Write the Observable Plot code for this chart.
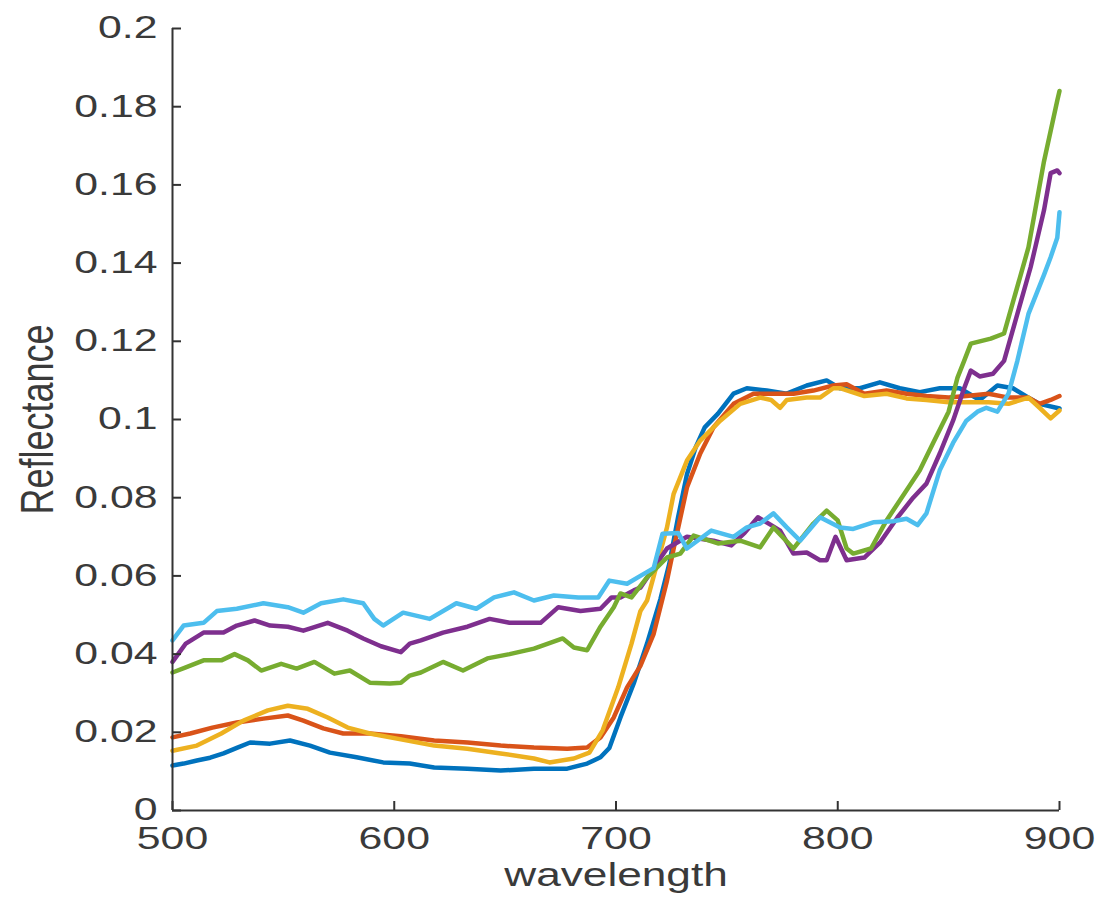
<!DOCTYPE html>
<html>
<head>
<meta charset="utf-8">
<script src="https://cdn.jsdelivr.net/npm/d3@7"></script>
<script src="https://cdn.jsdelivr.net/npm/@observablehq/plot@0.6"></script>
<style>
  html, body { margin: 0; padding: 0; background: #fff; }
</style>
</head>
<body>
<div id="chart"></div>
<script>
// Tick values
const xTicks = [500, 600, 700, 800, 900];
const yTicks = [0, 0.02, 0.04, 0.06, 0.08, 0.1, 0.12, 0.14, 0.16, 0.18, 0.2];

// Series: [wavelength, reflectance]
const blue = [[500,0.0115],[505,0.012],[511,0.0128],[517,0.0135],[523,0.0146],[529,0.016],[535,0.0174],[544,0.0171],[553,0.0179],[562,0.0166],[571,0.0148],[583,0.0136],[595,0.0123],[607,0.012],[618,0.011],[633,0.0107],[648,0.0102],[663,0.0107],[678,0.0107],[687,0.012],[693,0.0136],[697,0.016],[702,0.0238],[708,0.0325],[714,0.0427],[720,0.054],[724,0.063],[728,0.075],[732,0.086],[736,0.093],[740,0.098],[746,0.1015],[753,0.1066],[759,0.108],[768,0.1074],[777,0.1066],[786,0.1087],[795,0.11],[801,0.108],[810,0.108],[819,0.1095],[828,0.108],[837,0.107],[846,0.108],[855,0.108],[864,0.105],[872,0.1087],[879,0.108],[886,0.1056],[891,0.104],[900,0.1028]];

const red = [[500,0.0187],[508,0.0197],[518,0.0212],[529,0.0225],[541,0.0235],[552,0.0243],[559,0.023],[568,0.021],[577,0.0197],[589,0.0197],[603,0.019],[618,0.0179],[633,0.0174],[648,0.0166],[663,0.0161],[678,0.0158],[687,0.0161],[693,0.0187],[699,0.0238],[705,0.0315],[711,0.037],[717,0.0452],[723,0.0588],[726,0.067],[732,0.0826],[738,0.0913],[744,0.098],[753,0.104],[762,0.1066],[771,0.1066],[780,0.1066],[789,0.1074],[798,0.1087],[804,0.109],[812,0.1066],[822,0.1074],[831,0.1066],[840,0.106],[850,0.1056],[858,0.106],[868,0.1066],[877,0.1056],[886,0.1056],[891,0.104],[896,0.105],[900,0.106]];

const yellow = [[500,0.0153],[511,0.0166],[522,0.0197],[532,0.023],[543,0.0256],[552,0.0268],[561,0.026],[570,0.0238],[579,0.0212],[589,0.0197],[603,0.0182],[618,0.0166],[633,0.0158],[648,0.0146],[663,0.0133],[670,0.0123],[681,0.0133],[688,0.0148],[694,0.0205],[701,0.0315],[707,0.0427],[711,0.051],[714,0.0537],[718,0.062],[723,0.0724],[726,0.081],[732,0.0895],[738,0.0946],[747,0.0997],[756,0.104],[765,0.1056],[770,0.105],[774,0.103],[777,0.105],[786,0.1056],[792,0.1056],[798,0.108],[801,0.108],[812,0.106],[822,0.1066],[831,0.1054],[840,0.105],[850,0.1044],[858,0.1044],[868,0.1044],[877,0.104],[886,0.1056],[891,0.103],[896,0.1003],[900,0.1023]];

const purple = [[500,0.038],[506,0.0427],[514,0.0455],[523,0.0455],[529,0.0473],[537,0.0486],[544,0.0473],[552,0.047],[559,0.046],[570,0.048],[579,0.046],[586,0.044],[594,0.042],[603,0.0405],[607,0.0427],[612,0.0435],[622,0.0455],[633,0.047],[643,0.049],[652,0.048],[666,0.048],[674,0.052],[684,0.051],[693,0.0516],[698,0.0545],[702,0.0545],[708,0.0563],[711,0.057],[717,0.062],[723,0.067],[732,0.070],[744,0.069],[752,0.0678],[758,0.071],[764,0.075],[770,0.073],[774,0.0716],[780,0.0657],[786,0.066],[792,0.064],[795,0.064],[799,0.070],[804,0.064],[812,0.0647],[819,0.0685],[827,0.075],[834,0.080],[840,0.0836],[846,0.0913],[852,0.0997],[857,0.108],[860,0.1125],[864,0.111],[870,0.1117],[875,0.115],[878,0.121],[887,0.139],[893,0.1535],[896,0.163],[899,0.1637],[900,0.163]];

const green = [[500,0.0353],[506,0.0366],[514,0.0384],[522,0.0384],[528,0.040],[534,0.0384],[540,0.0358],[549,0.0375],[556,0.0363],[564,0.038],[573,0.035],[580,0.0358],[589,0.0327],[598,0.0325],[603,0.0327],[607,0.0345],[612,0.0353],[622,0.038],[631,0.0358],[642,0.0389],[652,0.040],[663,0.0414],[676,0.044],[681,0.0417],[687,0.041],[693,0.047],[699,0.052],[702,0.0555],[707,0.0545],[714,0.0596],[723,0.0647],[729,0.0657],[735,0.0703],[746,0.0683],[756,0.069],[765,0.0673],[771,0.0724],[780,0.067],[789,0.0734],[795,0.0767],[800,0.0742],[804,0.067],[807,0.0657],[815,0.067],[822,0.0742],[830,0.081],[837,0.087],[843,0.094],[850,0.102],[854,0.1107],[857,0.115],[860,0.1194],[869,0.1207],[875,0.122],[879,0.130],[886,0.144],[893,0.166],[899,0.1816],[900,0.184]];

const cyan = [[500,0.0435],[505,0.0473],[514,0.048],[520,0.051],[529,0.0516],[541,0.053],[552,0.052],[559,0.0506],[567,0.053],[577,0.054],[586,0.053],[591,0.049],[595,0.0473],[604,0.0506],[616,0.049],[628,0.053],[637,0.0516],[645,0.0545],[654,0.0558],[663,0.0537],[672,0.055],[683,0.0545],[692,0.0545],[697,0.0588],[705,0.058],[711,0.060],[717,0.062],[721,0.0708],[728,0.071],[732,0.067],[743,0.0716],[753,0.070],[759,0.0724],[765,0.0734],[771,0.076],[777,0.0724],[783,0.069],[792,0.075],[801,0.0724],[807,0.072],[816,0.0737],[825,0.074],[831,0.0746],[836,0.073],[840,0.076],[846,0.087],[852,0.094],[858,0.0997],[863,0.102],[867,0.103],[872,0.102],[877,0.1066],[881,0.115],[886,0.127],[893,0.137],[896,0.1415],[899,0.1465],[900,0.153]];

const seriesList = [blue, red, yellow, purple, green, cyan];
const seriesColors = ["#0072BD", "#D95319", "#EDB120", "#7E2F8E", "#77AC30", "#4DBEEE"];

const W = 1098, H = 907;
const mL = 172, mR = 39, mT = 28, mB = 97;
const innerW = W - mL - mR, innerH = H - mT - mB;
const axisColor = "#333333";
const textColor = "#3a3a3a";

const lineMarks = seriesList.map((s, i) => Plot.line(s, {
  x: d => d[0], y: d => d[1], stroke: seriesColors[i], strokeWidth: 4.5,
  strokeLinejoin: "round", strokeLinecap: "round"
}));

const chart = Plot.plot({
  width: W, height: H,
  marginLeft: mL, marginRight: mR, marginTop: mT, marginBottom: mB,
  style: { fontFamily: "'Liberation Sans', Arial, sans-serif", fontSize: "31px", color: textColor, background: "#fff", overflow: "visible" },
  x: { domain: [500, 900] },
  y: { domain: [0, 0.2] },
  marks: [
    Plot.axisX({ ticks: xTicks, tickSize: 0, tickPadding: 16, label: null, tickFormat: d => String(d), fill: textColor, className: "tl-x" }),
    Plot.axisY({ ticks: yTicks, tickSize: 0, tickPadding: 15, label: null, tickFormat: d => String(d), fill: textColor, className: "tl-y" }),
    ...lineMarks,
    Plot.ruleX([500], { stroke: axisColor, strokeWidth: 2 }),
    Plot.ruleY([0], { stroke: axisColor, strokeWidth: 2 }),
    Plot.tickY(yTicks, { y: d => d, insetRight: innerW - 9, stroke: axisColor, strokeWidth: 2 }),
    Plot.tickX(xTicks, { x: d => d, insetTop: innerH - 9, stroke: axisColor, strokeWidth: 2 }),
    Plot.text(["wavelength"], { text: d => d, frameAnchor: "bottom", dy: 75, fill: textColor, fontSize: 34, className: "lab-x" }),
    Plot.text(["Reflectance"], { text: d => d, frameAnchor: "left", textAnchor: "middle", lineAnchor: "middle", rotate: -90, dx: -134, fill: textColor, fontSize: 36, className: "lab-y" })
  ]
});
document.getElementById("chart").appendChild(chart);

// Horizontal stretch of the text glyphs, as in the reference picture
function stretch(selector, sx, sy) {
  chart.querySelectorAll(selector).forEach(t => {
    const tr = t.getAttribute("transform") || "";
    t.setAttribute("transform", tr + ` scale(${sx},${sy})`);
  });
}
stretch(".tl-x text, .tl-y text", 1.38, 1);
stretch(".lab-x text", 1.3, 1);
stretch(".lab-y text", 1, 1.3);
</script>
</body>
</html>
